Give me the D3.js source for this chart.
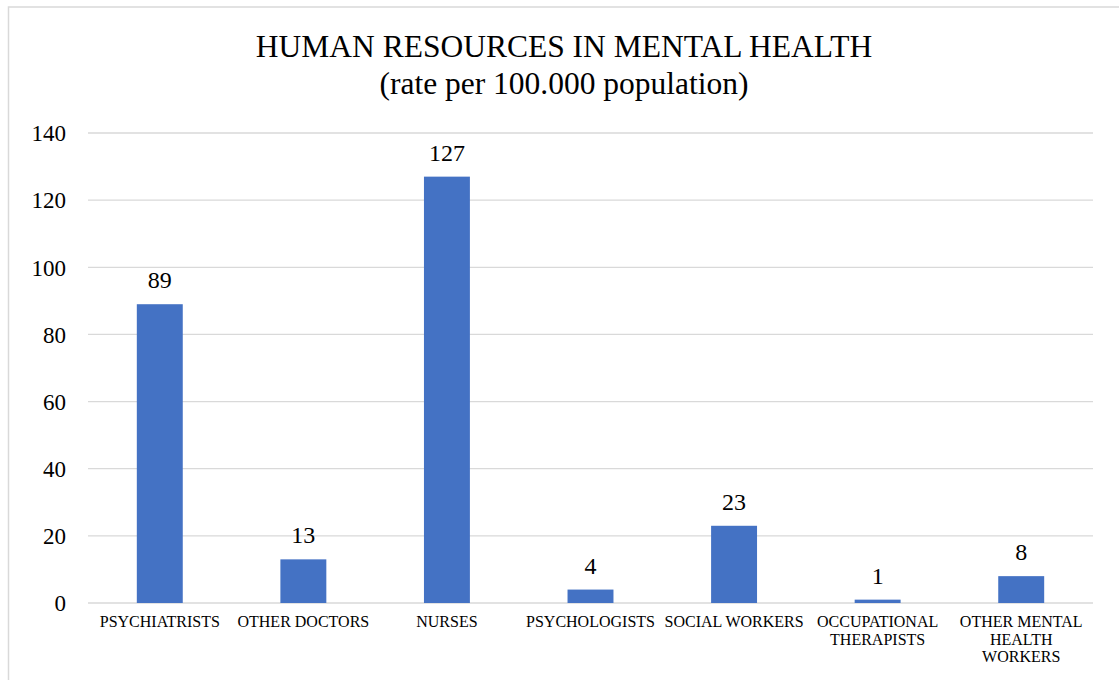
<!DOCTYPE html>
<html>
<head>
<meta charset="utf-8">
<script src="https://cdn.jsdelivr.net/npm/d3@7"></script>
<style>
  body { margin: 0; background: #fff; }
  text { font-family: "Liberation Serif", "Times New Roman", serif; fill: #000; }
</style>
</head>
<body>
<div id="chart"></div>
<script>
// Data
const categories = [
  ["PSYCHIATRISTS"],
  ["OTHER DOCTORS"],
  ["NURSES"],
  ["PSYCHOLOGISTS"],
  ["SOCIAL WORKERS"],
  ["OCCUPATIONAL", "THERAPISTS"],
  ["OTHER MENTAL", "HEALTH", "WORKERS"]
];
const values = [89, 13, 127, 4, 23, 1, 8];
const yTicks = [0, 20, 40, 60, 80, 100, 120, 140];
const titleLines = ["HUMAN RESOURCES IN MENTAL HEALTH", "(rate per 100.000 population)"];

(function() {
    const W = 1119, H = 680;
    const margin = {top: 133, right: 26, bottom: 77, left: 88};
    const width = W - margin.left - margin.right;
    const height = H - margin.top - margin.bottom;

    const svg = d3.select("#chart")
        .append("svg")
        .attr("width", W)
        .attr("height", H);

    // Chart border (right and bottom edges fall outside the picture)
    svg.append("rect")
        .attr("x", 8.5).attr("y", 7)
        .attr("width", 1130).attr("height", 700)
        .attr("fill", "none")
        .attr("stroke", "#d9d9d9")
        .attr("stroke-width", 1.5);

    // Title
    svg.append("text")
        .attr("text-anchor", "middle")
        .style("font-size", "31.5px")
        .selectAll("tspan")
        .data(titleLines)
        .enter()
        .append("tspan")
        .attr("x", 564)
        .attr("y", (d, i) => 57 + i * 37)
        .text(d => d);

    const g = svg.append("g")
        .attr("transform", `translate(${margin.left}, ${margin.top})`);

    const keys = categories.map((c, i) => i);
    const x = d3.scaleBand().domain(keys).range([0, width]).padding(0);
    const y = d3.scaleLinear().domain([0, 140]).range([height, 0]);

    // Gridlines
    g.selectAll(".grid")
        .data(yTicks)
        .enter()
        .append("line")
        .attr("x1", 0).attr("x2", width)
        .attr("y1", d => y(d)).attr("y2", d => y(d))
        .attr("stroke", "#d9d9d9")
        .attr("stroke-width", 1.3);

    // Y axis labels
    const yAxis = d3.axisLeft(y).tickValues(yTicks).tickSize(0).tickPadding(22);
    const ya = g.append("g").call(yAxis);
    ya.select(".domain").remove();
    ya.selectAll("text")
        .style("font-family", "'Liberation Serif', serif")
        .style("font-size", "23px")
        .attr("dy", "0.34em");

    // Bars
    const barW = x.bandwidth() * 0.32;
    g.selectAll(".bar")
        .data(values)
        .enter()
        .append("rect")
        .attr("class", "bar")
        .attr("x", (d, i) => x(i) + (x.bandwidth() - barW) / 2)
        .attr("y", d => y(d))
        .attr("width", barW)
        .attr("height", d => height - y(d))
        .attr("fill", "#4472c4");

    // Value labels
    g.selectAll(".val")
        .data(values)
        .enter()
        .append("text")
        .attr("x", (d, i) => x(i) + x.bandwidth() / 2)
        .attr("y", d => y(d) - 16)
        .attr("text-anchor", "middle")
        .style("font-size", "24px")
        .text(d => d);

    // Category labels
    const cat = g.selectAll(".cat")
        .data(categories)
        .enter()
        .append("text")
        .attr("text-anchor", "middle")
        .style("font-size", "16px");
    cat.selectAll("tspan")
        .data((d, i) => d.map(t => ({t, i})))
        .enter()
        .append("tspan")
        .attr("x", d => x(d.i) + x.bandwidth() / 2)
        .attr("y", (d, j) => height + 24 + j * 17.5)
        .text(d => d.t);
})();
</script>
</body>
</html>
